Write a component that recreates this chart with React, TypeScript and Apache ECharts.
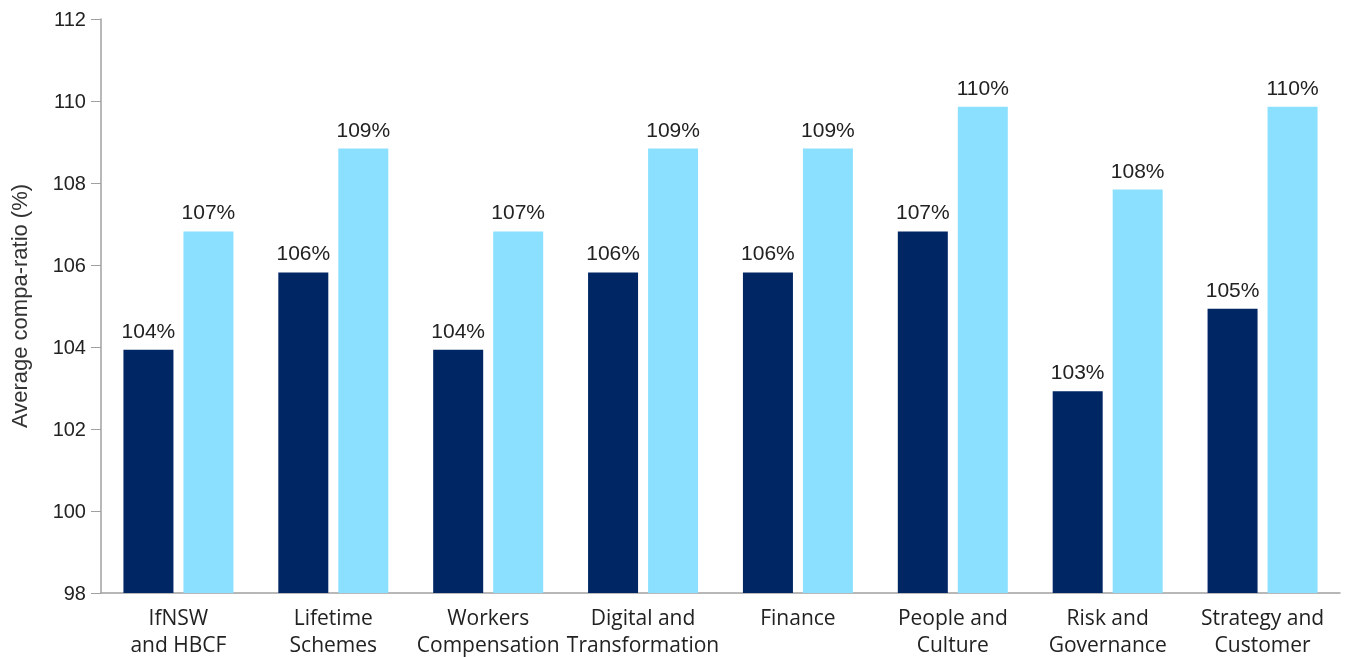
import React, { useEffect, useRef } from "react";
import * as echarts from "echarts";

const categories = [
  "IfNSW\nand HBCF",
  "Lifetime\nSchemes",
  "Workers\nCompensation",
  "Digital and\nTransformation",
  "Finance",
  "People and\nCulture",
  "Risk and\nGovernance",
  "Strategy and\nCustomer",
];
const seriesA = [103.93, 105.82, 103.93, 105.82, 105.82, 106.82, 102.92, 104.93];
const seriesB = [106.82, 108.84, 106.82, 108.84, 108.84, 109.86, 107.84, 109.86];

export default function App() {
  const ref = useRef<HTMLDivElement>(null);
  useEffect(() => {
    if (!ref.current) return;
    const chart = echarts.init(ref.current, null, { renderer: "svg" });
    const labelCfg = {
      show: true,
      position: "top" as const,
      distance: 9,
      fontSize: 21,
      color: "#222",
      fontFamily: "Liberation Sans, Arial, sans-serif",
      formatter: (p: any) => Math.round(p.value) + "%",
    };
    chart.setOption({
      animation: false,
      grid: { left: 97, right: 6, top: 19, bottom: 64, containLabel: false },
      xAxis: {
        type: "category",
        data: categories,
        axisLine: { lineStyle: { color: "#a0a0a0", width: 1.5 } },
        axisTick: { show: false },
        axisLabel: {
          fontSize: 21,
          color: "#222",
          lineHeight: 26.5,
          margin: 11,
          interval: 0,
          fontFamily: "Open Sans, sans-serif",
        },
      },
      yAxis: {
        type: "value",
        min: 98,
        max: 112,
        interval: 2,
        name: "Average compa-ratio (%)",
        nameLocation: "middle",
        nameGap: 71,
        nameTextStyle: {
          fontSize: 22,
          color: "#333",
          fontFamily: "Liberation Sans, Arial, sans-serif",
        },
        axisLine: { show: true, lineStyle: { color: "#a0a0a0", width: 1.5 } },
        axisTick: { show: true, length: 10, lineStyle: { color: "#a0a0a0" } },
        splitLine: { show: false },
        axisLabel: {
          fontSize: 20,
          color: "#222",
          margin: 15,
          fontFamily: "Liberation Sans, Arial, sans-serif",
        },
      },
      series: [
        {
          type: "bar",
          data: seriesA,
          barWidth: 50,
          barGap: "20%",
          itemStyle: { color: "#002664" },
          label: labelCfg,
        },
        {
          type: "bar",
          data: seriesB,
          barWidth: 50,
          itemStyle: { color: "#8CE0FF" },
          label: labelCfg,
        },
      ],
    });
    return () => chart.dispose();
  }, []);
  return (
    <div
      ref={ref}
      style={{ position: "fixed", left: 0, top: 0, width: 1346, height: 657 }}
    />
  );
}
